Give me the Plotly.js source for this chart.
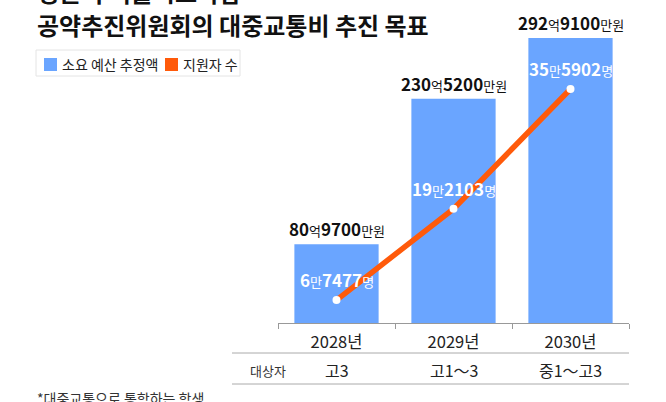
<!DOCTYPE html>
<html><head><meta charset="utf-8">
<script src="https://cdn.plot.ly/plotly-3.0.1.min.js"></script>
<style>html,body{margin:0;padding:0;background:#fff;}#chart{width:666px;height:402px;}</style>
</head><body><div id="chart"></div>
<script>
// ---- data ----
var years = ['2028년', '2029년', '2030년'];
var budgetManwon = [809700, 2305200, 2929100];   // 소요 예산 추정액 (만원)
var applicants = [67477, 192103, 355902];        // 지원자 수 (명)
var targets = ['고3', '고1～3', '중1～고3'];
var titleLines = ['정근식 서울시교육감', '공약추진위원회의 대중교통비 추진 목표'];
var legendNames = ['소요 예산 추정액', '지원자 수'];
var footnote = '*대중교통으로 통학하는 학생';
var rowHeader = '대상자';

// ---- derived ----
var budgetEok = budgetManwon.map(function(v){ return v / 10000; });
var applicantsMan = applicants.map(function(v){ return v / 10000; });

var FONT = 'Noto Sans CJK KR, Noto Sans, sans-serif';
var BLUE = '#6aa5ff', ORANGE = '#ff5a0a';
var W = 666, H = 402, ML = 278, MR = 37, MT = 30, MB = 79;
var PW = W - ML - MR, PH = H - MT - MB;
function px(x){ return (x - ML) / PW; }
function py(y){ return (H - MB - y) / PH; }

function budgetLabel(m){
  var eok = Math.floor(m / 10000), man = m % 10000;
  return '<b>' + eok + '</b><span style="font-size:13px">억</span><b>' + man + '</b><span style="font-size:13px">만원</span>';
}
function applicantLabel(n){
  var man = Math.floor(n / 10000), rest = n % 10000;
  return '<b>' + man + '</b><span style="font-size:13px">만</span><b>' + rest + '</b><span style="font-size:13px">명</span>';
}

var traces = [
  { type: 'bar', x: years, y: budgetEok, name: legendNames[0],
    marker: { color: BLUE }, hoverinfo: 'skip', showlegend: false },
  { type: 'scatter', mode: 'lines+markers', x: years, y: applicantsMan, yaxis: 'y2', name: legendNames[1],
    line: { color: ORANGE, width: 5.5 },
    marker: { color: '#ffffff', size: 8, line: { color: ORANGE, width: 0 } },
    hoverinfo: 'skip', showlegend: false }
];

var annotations = [];
years.forEach(function(c, i){
  annotations.push({ x: c, y: budgetEok[i], xref: 'x', yref: 'y', yanchor: 'bottom', yshift: 1,
    text: budgetLabel(budgetManwon[i]), showarrow: false, font: { family: FONT, size: 17, color: '#111' } });
  annotations.push({ x: c, y: applicantsMan[i], xref: 'x', yref: 'y2', yanchor: 'bottom', yshift: 6,
    text: applicantLabel(applicants[i]), showarrow: false, font: { family: FONT, size: 17, color: '#ffffff' } });
  annotations.push({ x: c, y: py(370), xref: 'x', yref: 'paper', yanchor: 'middle',
    text: targets[i], showarrow: false, font: { family: FONT, size: 16, color: '#222' } });
});
annotations.push({ x: px(268), y: py(370), xref: 'paper', yref: 'paper', xanchor: 'center', yanchor: 'middle',
  text: rowHeader, showarrow: false, font: { family: FONT, size: 13, color: '#333' } });
annotations.push({ x: px(35), y: py(-9), xref: 'paper', yref: 'paper', xanchor: 'left', yanchor: 'middle',
  text: '<b>' + titleLines[0] + '</b>', showarrow: false, font: { family: FONT, size: 24, color: '#111' } });
annotations.push({ x: px(35), y: py(25), xref: 'paper', yref: 'paper', xanchor: 'left', yanchor: 'middle',
  text: '<b>' + titleLines[1] + '</b>', showarrow: false, font: { family: FONT, size: 24, color: '#111' } });
annotations.push({ x: px(60), y: py(64), xref: 'paper', yref: 'paper', xanchor: 'left', yanchor: 'middle',
  text: legendNames[0], showarrow: false, font: { family: FONT, size: 14, color: '#222' } });
annotations.push({ x: px(181), y: py(64), xref: 'paper', yref: 'paper', xanchor: 'left', yanchor: 'middle',
  text: legendNames[1], showarrow: false, font: { family: FONT, size: 14, color: '#222' } });
annotations.push({ x: px(35), y: py(398), xref: 'paper', yref: 'paper', xanchor: 'left', yanchor: 'middle',
  text: footnote, showarrow: false, font: { family: FONT, size: 14, color: '#333' } });

var shapes = [
  { type: 'rect', xref: 'paper', yref: 'paper', x0: px(36), x1: px(240), y0: py(50), y1: py(76),
    line: { color: '#e4e4e4', width: 1 }, fillcolor: 'rgba(0,0,0,0)' },
  { type: 'rect', xref: 'paper', yref: 'paper', x0: px(44), x1: px(57), y0: py(58), y1: py(71),
    line: { width: 0 }, fillcolor: BLUE },
  { type: 'rect', xref: 'paper', yref: 'paper', x0: px(165), x1: px(178), y0: py(58), y1: py(71),
    line: { width: 0 }, fillcolor: ORANGE },
  { type: 'line', xref: 'paper', yref: 'paper', x0: px(232), x1: 1, y0: py(353), y1: py(353),
    line: { color: '#aaaaaa', width: 1 } },
  { type: 'line', xref: 'paper', yref: 'paper', x0: px(232), x1: 1, y0: py(384), y1: py(384),
    line: { color: '#aaaaaa', width: 1 } }
];

var layout = {
  width: W, height: H, autosize: false,
  margin: { l: ML, r: MR, t: MT, b: MB, pad: 0 },
  paper_bgcolor: '#ffffff', plot_bgcolor: '#ffffff',
  showlegend: false, bargap: 0.28,
  font: { family: FONT },
  xaxis: { type: 'category', range: [-0.5, 2.5], showline: true, linecolor: '#999999', linewidth: 1,
    ticks: 'outside', tickson: 'boundaries', ticklen: 5, tickcolor: '#999999', showgrid: false, zeroline: false,
    ticklabelstandoff: 4,
    tickfont: { family: FONT, size: 16.5, color: '#222' }, fixedrange: true },
  yaxis: { range: [0, 301.1], visible: false, fixedrange: true },
  yaxis2: { range: [3.61, 43.66], overlaying: 'y', visible: false, fixedrange: true },
  annotations: annotations, shapes: shapes
};

Plotly.newPlot('chart', traces, layout, { displayModeBar: false, staticPlot: true });
</script></body></html>
